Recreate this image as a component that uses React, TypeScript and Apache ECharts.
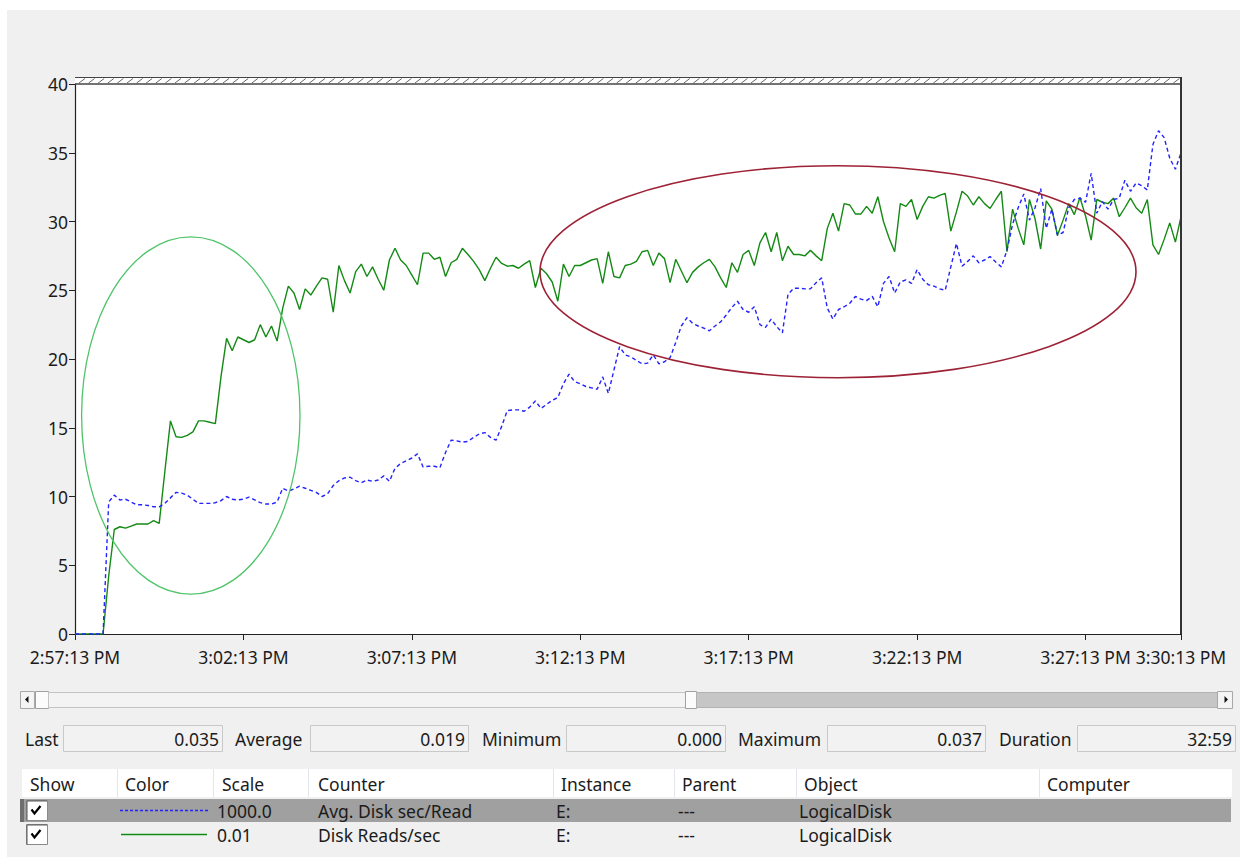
import React, { useEffect, useRef } from "react";
import * as echarts from "echarts";

// Sampling: one sample every 10 s starting at 2:57:13 PM
const sampleIntervalSec = 10;

// Disk Reads/sec (already multiplied by its display scale 0.01)
const diskReadsScaled = [
  0, 0, 0, 0, 0, 0, 4.2, 7.6, 7.8, 7.7,
  7.85, 8.0, 8.0, 8.0, 8.25, 8.05, 11.8, 15.5, 14.35, 14.3,
  14.45, 14.7, 15.5, 15.5, 15.4, 15.3, 18.7, 21.5, 20.6, 21.6,
  21.4, 21.2, 21.4, 22.5, 21.6, 22.4, 21.3, 23.7, 25.3, 24.8,
  23.6, 25.1, 24.65, 25.3, 25.9, 25.8, 23.4, 26.8, 25.7, 24.8,
  26.35, 26.9, 26.0, 26.7, 25.8, 25.0, 27.2, 28.05, 27.2, 26.8,
  26.1, 25.4, 27.7, 27.7, 27.25, 27.4, 26.0, 27.0, 27.25, 28.05,
  27.6, 27.1, 26.5, 25.7, 26.6, 27.4, 26.95, 26.75, 26.8, 26.6,
  26.9, 27.15, 25.2, 26.6, 26.2, 25.6, 24.2, 26.9, 26.0, 26.8,
  26.8, 27.0, 27.2, 27.3, 25.5, 27.8, 26.0, 25.9, 26.8, 26.9,
  27.1, 27.8, 27.9, 26.8, 27.7, 27.3, 25.55, 27.25, 26.4, 25.55,
  26.3, 26.7, 27.0, 27.25, 26.7, 25.9, 25.2, 27.0, 26.3, 27.6,
  27.9, 26.8, 28.45, 29.2, 27.8, 29.2, 27.15, 28.2, 27.6, 27.6,
  27.5, 27.9, 27.5, 27.15, 29.5, 30.6, 29.3, 31.3, 31.2, 30.55,
  30.55, 31.1, 30.6, 31.8, 30.0, 28.8, 27.8, 31.3, 31.1, 31.6,
  30.15, 31.1, 31.8, 31.7, 31.9, 32.05, 29.3, 30.7, 32.2, 31.85,
  31.2, 31.8, 31.3, 30.95, 31.6, 32.2, 27.8, 30.9, 29.5, 28.3,
  31.6, 30.2, 28.0, 31.5, 30.9, 29.0, 30.1, 31.3, 30.5, 31.75,
  30.4, 28.65, 31.6, 31.4, 31.3, 31.7, 30.35, 31.0, 31.7, 31.0,
  30.6, 31.6, 28.3, 27.6, 28.7, 29.9, 28.5, 30.35,
];

// Avg. Disk sec/Read (already multiplied by its display scale 1000)
const avgDiskSecReadScaled = [
  0, 0, 0, 0, 0, 0, 9.6, 10.1, 9.75, 9.8,
  9.6, 9.4, 9.4, 9.35, 9.25, 9.25, 9.5, 9.9, 10.3, 10.25,
  10.1, 9.8, 9.5, 9.5, 9.5, 9.55, 9.7, 10.0, 9.8, 9.75,
  9.8, 9.95, 9.75, 9.55, 9.45, 9.45, 9.6, 10.6, 10.4, 10.55,
  10.75, 10.6, 10.45, 10.3, 10.0, 10.2, 10.8, 11.15, 11.35, 11.4,
  11.15, 11.0, 11.2, 11.1, 11.2, 11.5, 11.1, 12.05, 12.4, 12.6,
  12.8, 13.1, 12.15, 12.2, 12.2, 12.1, 13.2, 14.1, 14.05, 13.95,
  14.0, 14.3, 14.55, 14.65, 14.3, 14.1, 15.1, 16.25, 16.3, 16.3,
  16.2, 16.5, 16.95, 16.4, 16.7, 17.0, 17.2, 18.2, 18.9, 18.35,
  18.2, 18.0, 17.9, 17.8, 18.7, 17.5, 19.2, 20.9, 20.3, 20.15,
  19.9, 19.65, 19.7, 20.3, 19.65, 19.8, 20.1, 21.2, 22.4, 23.0,
  22.6, 22.4, 22.25, 22.05, 22.4, 22.7, 23.2, 23.75, 24.2, 23.6,
  23.4, 23.8, 22.5, 22.3, 22.9, 22.35, 21.9, 24.7, 25.15, 25.15,
  25.1, 25.1, 25.55, 25.9, 23.7, 22.9, 23.6, 23.8, 24.05, 24.55,
  24.35, 24.25, 24.55, 23.8, 25.5, 26.0, 24.8, 25.6, 25.75, 25.5,
  26.5, 25.8, 25.4, 25.3, 25.1, 25.0, 26.7, 28.4, 26.75, 27.1,
  27.5, 27.0, 27.2, 27.45, 27.05, 26.7, 27.9, 29.8, 31.0, 32.0,
  30.1, 31.0, 32.4, 29.5, 30.9, 29.0, 29.2, 31.0, 31.6, 31.7,
  31.4, 33.5, 30.6, 31.45, 30.9, 31.6, 31.7, 33.0, 32.2, 32.8,
  32.6, 32.3, 35.6, 36.6, 36.1, 34.6, 33.8, 35.0,
];

const xTickSeconds = [0, 300, 600, 900, 1200, 1500, 1800, 1970];
const xTickLabels = [
  "2:57:13 PM", "3:02:13 PM", "3:07:13 PM", "3:12:13 PM",
  "3:17:13 PM", "3:22:13 PM", "3:27:13 PM", "3:30:13 PM",
];
const yMin = 0;
const yMax = 40;
const yStep = 5;

const durationText = "32:59";
const avgDiskScale = 1000;

const tableHeaders = ["Show", "Color", "Scale", "Counter", "Instance", "Parent", "Object", "Computer"];
const counterNames = ["Avg. Disk sec/Read", "Disk Reads/sec"];
const counterScales = ["1000.0", "0.01"];
const counterInstances = ["E:", "E:"];
const counterParents = ["---", "---"];
const counterObjects = ["LogicalDisk", "LogicalDisk"];

const BLUE = "#2323ff";
const GREEN = "#148a14";
const FONT = '"Noto Sans", "Open Sans", sans-serif';
const FS = 17.5;
const TEXT = "#1b1b1b";

function txt(text: string, x: number, y: number, align = "left", size = FS, color = TEXT) {
  return {
    type: "text",
    z: 20,
    style: {
      text, x, y, fill: color,
      font: `${size}px ${FONT}`,
      textAlign: align, textVerticalAlign: "middle",
      align, verticalAlign: "middle",
    },
  };
}
function rect(x: number, y: number, w: number, h: number, fill: string, stroke?: string, z = 5, lw = 1) {
  return {
    type: "rect", z,
    shape: { x, y, width: w, height: h },
    style: { fill, stroke: stroke || null, lineWidth: stroke ? lw : 0 },
  };
}
function line(x1: number, y1: number, x2: number, y2: number, stroke: string, lw = 1, z = 6, dash?: number[]) {
  return {
    type: "line", z,
    shape: { x1, y1, x2, y2 },
    style: { stroke, lineWidth: lw, lineDash: dash || null },
  };
}

export default function App() {
  const ref = useRef<HTMLDivElement>(null);

  useEffect(() => {
    if (!ref.current) return;
    const chart = echarts.init(ref.current, null, { renderer: "svg" });

    const times = diskReadsScaled.map((_, i) => i * sampleIntervalSec);
    const greenData = times.map((t, i) => [t, diskReadsScaled[i]]);
    const blueData = times.map((t, i) => [t, avgDiskSecReadScaled[i]]);

    const raw = avgDiskSecReadScaled.map((v) => v / avgDiskScale);
    const last = raw[raw.length - 1];
    const avg = raw.reduce((a, b) => a + b, 0) / raw.length;
    const mn = Math.min(...raw);
    const mx = Math.max(...raw);

    const plotL = 75, plotR = 1181, plotT = 84, plotB = 634;

    const g: any[] = [];
    // window panel and plot background
    g.push(rect(7, 10, 1233, 847, "#f0f0f0", undefined, -100));
    g.push(rect(plotL, 77, plotR - plotL, plotB - 77, "#ffffff", undefined, -90));

    // hatched strip above the top of the scale
    g.push(line(plotL, 77.5, plotR, 77.5, "#444", 1, 8));
    g.push(line(plotL, 84, plotR, 84, "#444", 1.5, 8));
    for (let x = plotL + 4; x < plotR - 6; x += 9.6) {
      g.push(line(x, 83, x + 6, 78.5, "#666", 1, 7));
    }
    // right border of the plot
    g.push(line(plotR, 77, plotR, plotB, "#333", 2, 8));

    // highlight ellipses
    g.push({
      type: "ellipse", z: 30,
      shape: { cx: 190.8, cy: 415.5, rx: 109.2, ry: 178.7 },
      style: { fill: "none", stroke: "#4fc46a", lineWidth: 1.3 },
    });
    g.push({
      type: "ellipse", z: 30,
      shape: { cx: 838, cy: 271.7, rx: 298, ry: 106 },
      style: { fill: "none", stroke: "#9e2236", lineWidth: 1.6 },
    });

    // scroll bar
    const sy = 691, sh = 17;
    g.push(rect(20.5, sy + 0.5, 14, sh, "#f4f4f4", "#a8a8a8"));
    g.push({ type: "polygon", z: 9, shape: { points: [[25, 699.5], [28.5, 696], [28.5, 703]] }, style: { fill: "#111" } });
    g.push(rect(35.5, sy + 0.5, 13, sh, "#fbfbfb", "#a0a0a0"));
    g.push(rect(48.5, sy + 1.5, 637, sh - 2, "#f3f3f3", "#c4c4c4"));
    g.push(rect(685.5, sy + 0.5, 11, sh, "#fbfbfb", "#a0a0a0"));
    g.push(rect(696.5, sy + 1.5, 521, sh - 2, "#c6c6c6", "#b2b2b2"));
    g.push(rect(1217.5, sy + 0.5, 15, sh, "#f4f4f4", "#a8a8a8"));
    g.push({ type: "polygon", z: 9, shape: { points: [[1228, 699.5], [1224.5, 696], [1224.5, 703]] }, style: { fill: "#111" } });

    // statistics row
    const stats = [
      { label: "Last", value: last.toFixed(3), lx: 25, bx: 63, bw: 159 },
      { label: "Average", value: avg.toFixed(3), lx: 235, bx: 310, bw: 158 },
      { label: "Minimum", value: mn.toFixed(3), lx: 482, bx: 566, bw: 159 },
      { label: "Maximum", value: mx.toFixed(3), lx: 738, bx: 827, bw: 158 },
      { label: "Duration", value: durationText, lx: 999, bx: 1077, bw: 158 },
    ];
    stats.forEach((s) => {
      g.push(txt(s.label, s.lx, 739));
      g.push(rect(s.bx + 0.5, 725.5, s.bw, 26, "#f2f2f2", "#c9c9c9"));
      g.push(txt(s.value, s.bx + s.bw - 3, 739, "right"));
    });

    // counter table header
    const colX = [30, 125, 222, 318, 561, 682, 804, 1047];
    const sepX = [117, 213, 308, 553, 674, 796, 1039];
    g.push(rect(22, 769, 1210, 28, "#ffffff"));
    sepX.forEach((x) => g.push(line(x + 0.5, 769, x + 0.5, 797, "#e2e6ec", 1, 7)));
    tableHeaders.forEach((h, i) => g.push(txt(h, colX[i], 784)));

    // counter rows
    const rowY = [810.5, 834.5];
    g.push(rect(20, 799, 1211, 23, "#a0a0a0"));
    g.push(rect(20, 799, 4, 23, "#6f6f6f", undefined, 6));
    rowY.forEach((cy, r) => {
      g.push(rect(26.5, cy - 10, 21, 20, "#ffffff", "#8a8a8a", 8));
      g.push(line(27, cy - 9.5, 47, cy - 9.5, "#5a5a5a", 1, 9));
      g.push(line(27, cy - 9.5, 27, cy + 10, "#5a5a5a", 1, 9));
      g.push({
        type: "polyline", z: 10,
        shape: { points: [[31.5, cy - 1], [34.5, cy + 3], [40.5, cy - 4.5]] },
        style: { stroke: "#000", lineWidth: 2.2, fill: "none" },
      });
      if (r === 0) g.push(line(120, cy, 208, cy, BLUE, 1.3, 9, [3, 2]));
      else g.push(line(121, cy, 207, cy, GREEN, 1.3, 9));
      g.push(txt(counterScales[r], 217, cy));
      g.push(txt(counterNames[r], 318, cy));
      g.push(txt(counterInstances[r], 556, cy));
      g.push(txt(counterParents[r], 678, cy));
      g.push(txt(counterObjects[r], 799, cy));
    });

    chart.setOption({
      animation: false,
      backgroundColor: "#ffffff",
      grid: { left: plotL, right: 1242 - plotR, top: plotT, bottom: 859 - plotB, containLabel: false },
      xAxis: {
        type: "value",
        min: 0,
        max: xTickSeconds[xTickSeconds.length - 1],
        axisLine: { show: true, lineStyle: { color: "#222", width: 1.2 } },
        axisTick: { show: true, length: 6, customValues: xTickSeconds, lineStyle: { color: "#222" } },
        axisLabel: {
          customValues: xTickSeconds,
          showMinLabel: true, showMaxLabel: true,
          margin: 14,
          lineHeight: 18,
          color: TEXT, fontSize: FS, fontFamily: FONT,
          formatter: (v: number) => {
            const k = xTickSeconds.indexOf(v);
            return k >= 0 ? xTickLabels[k] : "";
          },
        },
        splitLine: { show: false },
      },
      yAxis: {
        type: "value",
        min: yMin, max: yMax, interval: yStep,
        axisLine: { show: true, lineStyle: { color: "#222", width: 1.2 } },
        axisTick: { show: true, length: 6, lineStyle: { color: "#222" } },
        axisLabel: { margin: 7, lineHeight: 18, color: TEXT, fontSize: FS, fontFamily: FONT },
        splitLine: { show: false },
      },
      series: [
        {
          name: counterNames[1], type: "line", data: greenData, showSymbol: false,
          lineStyle: { color: GREEN, width: 1.4 }, z: 3,
        },
        {
          name: counterNames[0], type: "line", data: blueData, showSymbol: false,
          lineStyle: { color: BLUE, width: 1.4, type: [4, 3] }, z: 4,
        },
      ],
      graphic: { elements: g },
    });

    return () => chart.dispose();
  }, []);

  return (
    <div
      ref={ref}
      style={{ position: "fixed", left: 0, top: 0, width: 1242, height: 859 }}
    />
  );
}
